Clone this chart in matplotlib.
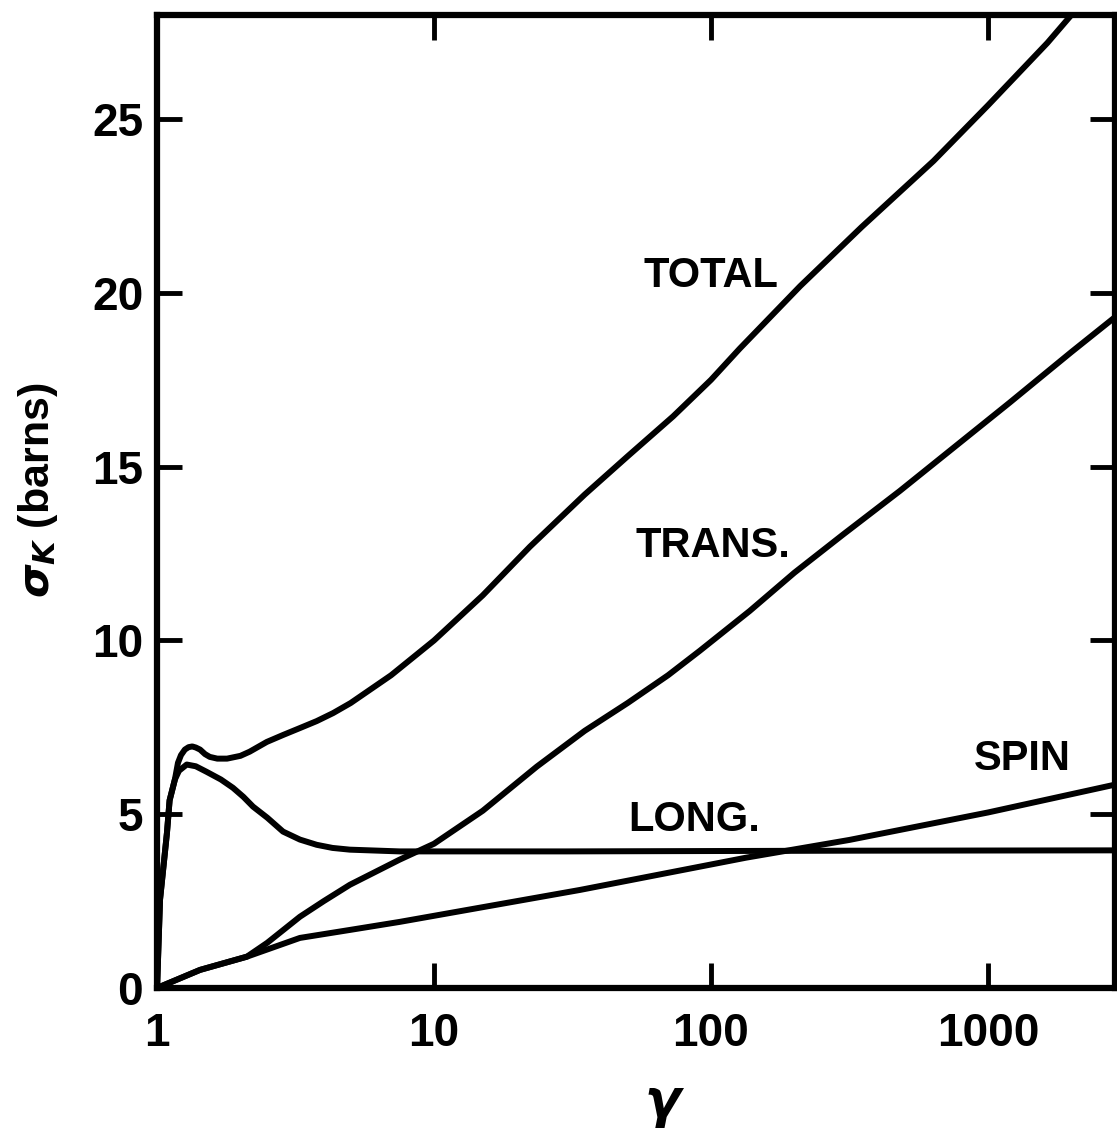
import numpy as np
import matplotlib
matplotlib.use("Agg")
import matplotlib.pyplot as plt
from matplotlib.ticker import FixedLocator, NullLocator, FixedFormatter

plt.rcParams['font.family'] = ['Liberation Sans', 'DejaVu Sans']
plt.rcParams['font.weight'] = 'bold'

# cross sections (barns) vs Lorentz factor gamma
gamma_total = [1.0, 1.025, 1.086, 1.11, 1.16, 1.19, 1.22, 1.26, 1.3, 1.34, 1.38,
               1.43, 1.49, 1.55, 1.65, 1.79, 2.0, 2.16, 2.49, 2.85, 3.28, 3.77,
               4.32, 5.0, 7.0, 10.0, 15.0, 22.2, 35.0, 50.0, 73.0, 100.0, 127.0,
               210.0, 350.0, 636.0, 1000.0, 1640.0, 2000.0]
sigma_total = [0.0, 2.54, 4.47, 5.4, 6.0, 6.48, 6.7, 6.86, 6.93, 6.95, 6.92,
               6.86, 6.73, 6.65, 6.6, 6.6, 6.68, 6.8, 7.08, 7.28, 7.48, 7.68,
               7.91, 8.2, 9.0, 10.0, 11.3, 12.7, 14.2, 15.3, 16.45, 17.5, 18.4,
               20.2, 21.9, 23.8, 25.4, 27.2, 28.0]

gamma_long = [1.0, 1.025, 1.086, 1.11, 1.16, 1.2, 1.28, 1.38, 1.51, 1.7, 1.88,
              2.05, 2.22, 2.5, 2.85, 3.28, 3.77, 4.3, 4.97, 7.5, 30.0, 300.0, 2870.0]
sigma_long = [0.0, 2.54, 4.47, 5.4, 6.0, 6.25, 6.43, 6.38, 6.22, 6.0, 5.76,
              5.5, 5.22, 4.9, 4.5, 4.27, 4.12, 4.03, 3.98, 3.93, 3.93, 3.95, 3.96]

gamma_trans = [1.0, 1.43, 2.11, 2.5, 3.28, 4.0, 4.97, 7.5, 10.0, 15.0, 23.5,
               35.0, 50.0, 70.0, 91.0, 138.0, 200.0, 300.0, 480.0, 700.0,
               1200.0, 2000.0, 2870.0]
sigma_trans = [0.0, 0.52, 0.9, 1.3, 2.05, 2.5, 2.97, 3.69, 4.15, 5.1, 6.37,
               7.4, 8.2, 9.0, 9.7, 10.85, 11.95, 13.05, 14.3, 15.35,
               16.85, 18.3, 19.3]

gamma_spin = [1.0, 1.43, 2.11, 3.28, 4.97, 7.5, 33.6, 134.0, 316.0, 1000.0, 2870.0]
sigma_spin = [0.0, 0.52, 0.9, 1.44, 1.67, 1.9, 2.82, 3.75, 4.26, 5.05, 5.85]

curve_labels = ["TOTAL", "TRANS.", "SPIN", "LONG."]
label_gamma = [100.0, 102.0, 1325.0, 87.0]
label_sigma = [20.5, 12.72, 6.59, 4.83]

yticks = [0, 5, 10, 15, 20, 25]
xticks = [1, 10, 100, 1000]
xticklabels = ["1", "10", "100", "1000"]

fig = plt.figure(figsize=(11.17, 11.30), dpi=100)
ax = fig.add_axes([0.1406, 0.1257, 0.8574, 0.861])

lw = 4.3
for g, s in [(gamma_total, sigma_total), (gamma_long, sigma_long),
             (gamma_trans, sigma_trans), (gamma_spin, sigma_spin)]:
    ax.plot(g, s, color='black', lw=lw, solid_capstyle='round',
            solid_joinstyle='round')

for txt, gx, sy in zip(curve_labels, label_gamma, label_sigma):
    ax.text(gx, sy, txt, ha='center', va='center', fontsize=30,
            fontweight='bold')

ax.set_xscale('log')
ax.set_xlim(1, 2870)
ax.set_ylim(0, 28)

ax.xaxis.set_major_locator(FixedLocator(xticks))
ax.xaxis.set_major_formatter(FixedFormatter(xticklabels))
ax.xaxis.set_minor_locator(NullLocator())
ax.set_yticks(yticks)

ax.tick_params(axis='both', which='major', direction='in', top=True,
               right=True, length=18, width=3.5, labelsize=33)
ax.tick_params(axis='x', pad=17)
ax.tick_params(axis='y', pad=10)

for sp in ax.spines.values():
    sp.set_linewidth(4.5)

# axis titles placed in figure fractions
fig.text(38 / 1117, 1 - 490 / 1130, r'$\sigma_K$ (barns)', rotation=90,
         ha='center', va='center', fontsize=31, fontweight='bold')
fig.text(665 / 1117, 1 - 1105 / 1130, r'$\gamma$', ha='center', va='center',
         fontsize=38)

fig.savefig("out.png", dpi=100)
